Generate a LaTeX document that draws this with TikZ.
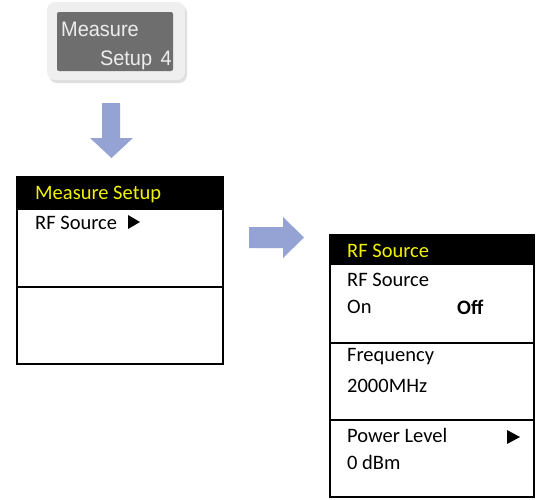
\documentclass[tikz,border=0pt]{standalone}
\usepackage{fontspec}
\setmainfont{Carlito}
\newfontfamily\btnfont{Liberation Sans}
\definecolor{arrowblue}{HTML}{95A3D4}
\definecolor{menuyellow}{HTML}{F2F200}
\definecolor{btndark}{HTML}{6E6E6E}
\definecolor{btnlight}{HTML}{EFEFEF}
\definecolor{btntext}{HTML}{EDEDED}
\tikzset{
  menuline/.style={draw=black, line width=2pt},
  header/.style={fill=black},
  mtext/.style={anchor=west, inner sep=0pt, font=\fontsize{20.5}{20.5}\selectfont, text=black},
  htext/.style={mtext, text=menuyellow},
  tri/.style={fill=black},
  blockarrow/.style={fill=arrowblue, draw=none},
  btnlabel/.style={inner sep=0pt, font=\btnfont\fontsize{21}{21}\selectfont, text=btntext}
}
\begin{document}
\begin{tikzpicture}[x=1pt,y=-1pt]
\useasboundingbox (0,0) rectangle (536,499);
% button
\fill[gray!25, rounded corners=8pt] (49,5) rectangle (187,83);
\fill[btnlight, rounded corners=8pt] (47,2) rectangle (185,80);
\fill[btndark, rounded corners=2pt] (57,12) rectangle (173,71);
\node[btnlabel, anchor=base west, xscale=0.95] (b1) at (61,36) {Measure};
\node[btnlabel, anchor=base east, xscale=0.95] (b2) at (172,65) {Setup\hspace{9pt}4};
% down arrow
\fill[blockarrow] (102,103) -- (120,103) -- (120,138) -- (133,138) -- (111.5,158) -- (90,138) -- (102,138) -- cycle;
% menu 1
\fill[header] (17,177) rectangle (223,210);
\draw[menuline] (17,177) rectangle (223,364);
\draw[menuline] (17,287) -- (223,287);
\node[htext] (m1h) at (35,194) {Measure Setup};
\node[mtext] (m1a) at (35,223) {RF Source};
\fill[tri] (128,215) -- (140,222) -- (128,229) -- cycle;
% right arrow
\fill[blockarrow] (249,227) -- (283,227) -- (283,217) -- (304,237.5) -- (283,258) -- (283,248) -- (249,248) -- cycle;
% menu 2
\fill[header] (330,235) rectangle (534,265);
\draw[menuline] (330,235) rectangle (534,497);
\draw[menuline] (330,343) -- (534,343);
\draw[menuline] (330,420) -- (534,420);
\node[htext] (m2h) at (347,251) {RF Source};
\node[mtext] (m2a) at (347,280) {RF Source};
\node[mtext] (m2b) at (347,307) {On};
\node[mtext, font=\bfseries\fontsize{20.5}{20.5}\selectfont] (m2c) at (457,307) {Off};
\node[mtext] (m2d) at (347,357) {Frequency};
\node[mtext] (m2e) at (347,386) {2000MHz};
\node[mtext] (m2f) at (347,435) {Power Level};
\node[mtext] (m2g) at (347,462) {0 dBm};
\fill[tri] (507,430) -- (520,437) -- (507,444) -- cycle;
\end{tikzpicture}
\end{document}
